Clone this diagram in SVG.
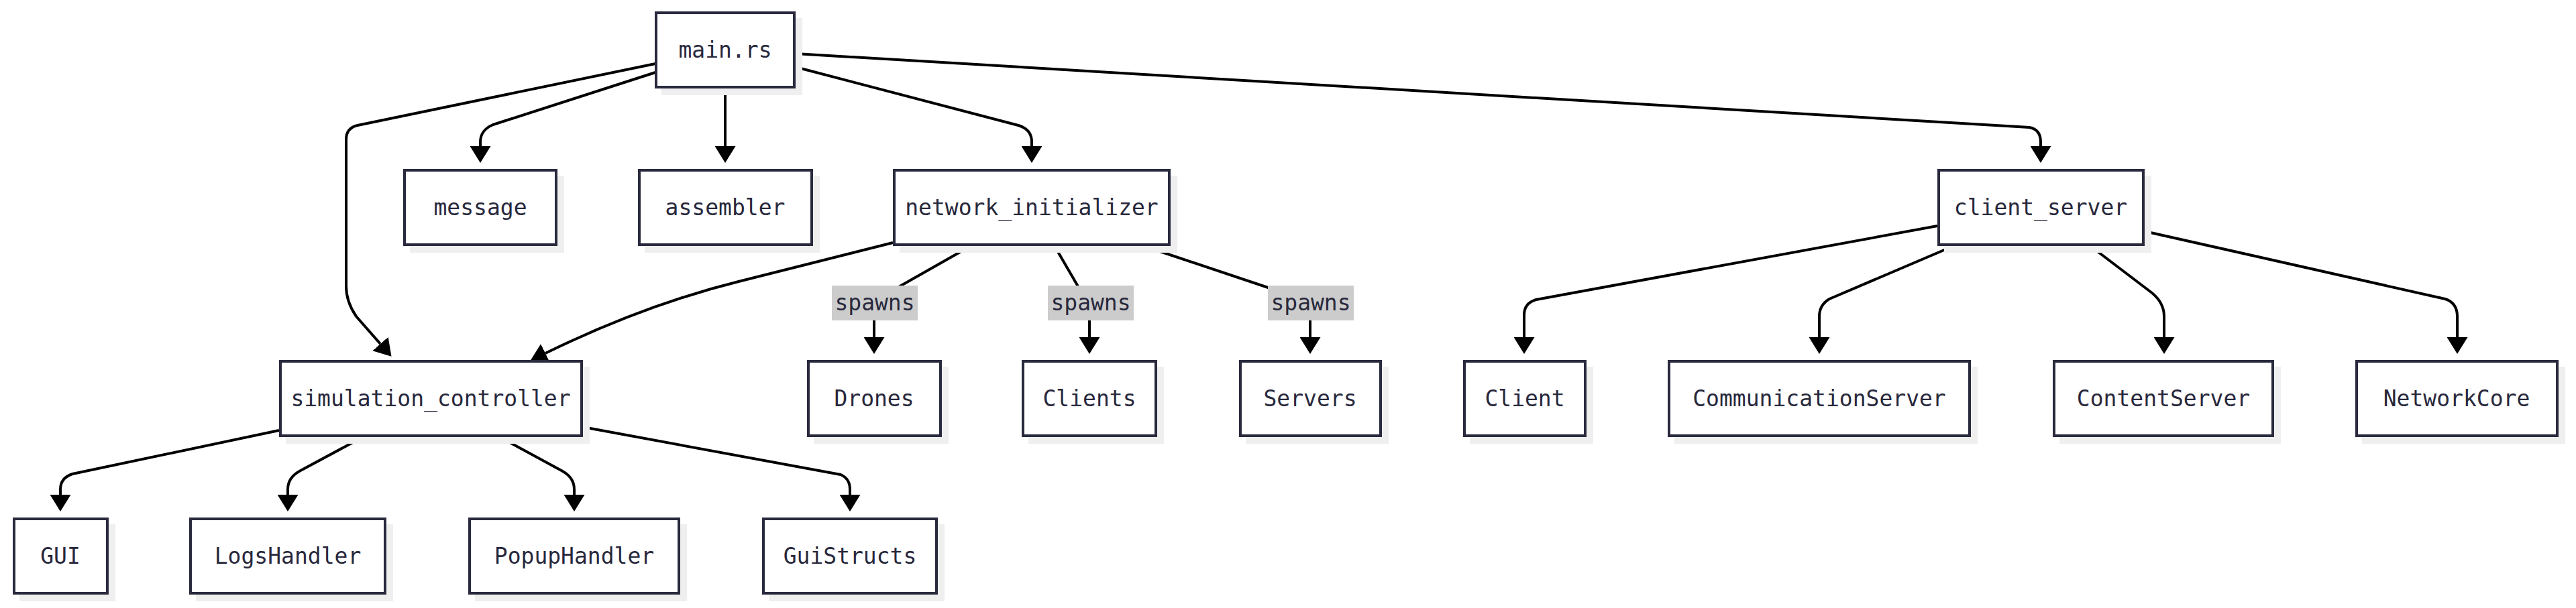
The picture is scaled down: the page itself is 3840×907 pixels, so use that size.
<svg xmlns="http://www.w3.org/2000/svg" width="3840" height="907" viewBox="0 0 3840 907">
<style>
.bg{fill:#ffffff}
.sh{fill:#efefef;stroke:none}
.bx{fill:#ffffff;stroke:#2a2a3e;stroke-width:4}
.t{font-family:"DejaVu Sans Mono","Liberation Mono",monospace;font-size:33px;fill:#28283c;text-anchor:middle}
.e{fill:none;stroke:#000000;stroke-width:4;stroke-linejoin:round}
.lb{fill:#cccccc;stroke:none}
</style>
<defs>
<marker id="arr" markerUnits="userSpaceOnUse" markerWidth="25" markerHeight="31" viewBox="0 0 25 31" refX="0" refY="15.5" orient="auto">
<path d="M0,0 L25,15.5 L0,31 z" fill="#000000"/>
</marker>
</defs>
<rect class="bg" x="0" y="0" width="3840" height="907"/>
<g id="connectors">
<path class="e" marker-end="url(#arr)" d="M977,95 L533,187 Q516,191 516,208 L516,427 Q516,450 531,472 L567,513"/>
<path class="e" marker-end="url(#arr)" d="M977,108 L735,186 Q716,194 716,212 L716,218"/>
<path class="e" marker-end="url(#arr)" d="M1081,132 L1081,218"/>
<path class="e" marker-end="url(#arr)" d="M1186,100 L1518,187 Q1538,193 1538,212 L1538,218"/>
<path class="e" marker-end="url(#arr)" d="M1186,80 L3025,190 Q3042,193 3042,212 L3042,218"/>
<path class="e" marker-end="url(#arr)" d="M1331,362 L1101,420 Q960,455 813,527"/>
<path class="e" marker-end="url(#arr)" d="M1447,367 L1315,442 Q1303,450 1303,465 L1303,503"/>
<path class="e" marker-end="url(#arr)" d="M1572,367 L1615,441 Q1624,452 1624,465 L1624,503"/>
<path class="e" marker-end="url(#arr)" d="M1702,366 L1935,444 Q1953,452 1953,465 L1953,503"/>
<path class="e" marker-end="url(#arr)" d="M2888,337 L2290,447 Q2272,452 2272,470 L2272,503"/>
<path class="e" marker-end="url(#arr)" d="M2912,367 L2727,446 Q2712,455 2712,472 L2712,503"/>
<path class="e" marker-end="url(#arr)" d="M3116,367 L3208,437 Q3226,452 3226,472 L3226,503"/>
<path class="e" marker-end="url(#arr)" d="M3197,345 L3645,446 Q3663,452 3663,472 L3663,503"/>
<path class="e" marker-end="url(#arr)" d="M416,642 L108,707 Q90,713 90,730 L90,738"/>
<path class="e" marker-end="url(#arr)" d="M539,653 L448,702 Q429,712 429,730 L429,738"/>
<path class="e" marker-end="url(#arr)" d="M747,653 L837,702 Q856,712 856,730 L856,738"/>
<path class="e" marker-end="url(#arr)" d="M869,637 L1253,708 Q1267,714 1267,730 L1267,738"/>
<g id="edge-labels">
<rect class="lb" x="1240" y="426" width="128" height="52"/>
<text class="t" x="1304" y="463">spawns</text>
<rect class="lb" x="1562" y="426" width="128" height="52"/>
<text class="t" x="1626" y="463">spawns</text>
<rect class="lb" x="1890" y="426" width="128" height="52"/>
<text class="t" x="1954" y="463">spawns</text>
</g>
</g>
<g id="main_rs"><rect class="sh" x="986" y="27" width="210" height="115"/><rect class="bx" x="978" y="19" width="206" height="111"/><text class="t" x="1081" y="86">main.rs</text></g>
<g id="message"><rect class="sh" x="611" y="262" width="230" height="115"/><rect class="bx" x="603" y="254" width="226" height="111"/><text class="t" x="716" y="321">message</text></g>
<g id="assembler"><rect class="sh" x="961" y="262" width="261" height="115"/><rect class="bx" x="953" y="254" width="257" height="111"/><text class="t" x="1081" y="321">assembler</text></g>
<g id="network_initializer"><rect class="sh" x="1341" y="262" width="414" height="115"/><rect class="bx" x="1333" y="254" width="410" height="111"/><text class="t" x="1538" y="321">network_initializer</text></g>
<g id="client_server"><rect class="sh" x="2898" y="262" width="309" height="115"/><rect class="bx" x="2890" y="254" width="305" height="111"/><text class="t" x="3042" y="321">client_server</text></g>
<g id="simulation_controller"><rect class="sh" x="426" y="547" width="453" height="115"/><rect class="bx" x="418" y="539" width="449" height="111"/><text class="t" x="642" y="606">simulation_controller</text></g>
<g id="Drones"><rect class="sh" x="1213" y="547" width="201" height="115"/><rect class="bx" x="1205" y="539" width="197" height="111"/><text class="t" x="1303" y="606">Drones</text></g>
<g id="Clients"><rect class="sh" x="1533" y="547" width="202" height="115"/><rect class="bx" x="1525" y="539" width="198" height="111"/><text class="t" x="1624" y="606">Clients</text></g>
<g id="Servers"><rect class="sh" x="1857" y="547" width="213" height="115"/><rect class="bx" x="1849" y="539" width="209" height="111"/><text class="t" x="1953" y="606">Servers</text></g>
<g id="Client"><rect class="sh" x="2191" y="547" width="184" height="115"/><rect class="bx" x="2183" y="539" width="180" height="111"/><text class="t" x="2273" y="606">Client</text></g>
<g id="CommunicationServer"><rect class="sh" x="2496" y="547" width="452" height="115"/><rect class="bx" x="2488" y="539" width="448" height="111"/><text class="t" x="2712" y="606">CommunicationServer</text></g>
<g id="ContentServer"><rect class="sh" x="3070" y="547" width="330" height="115"/><rect class="bx" x="3062" y="539" width="326" height="111"/><text class="t" x="3225" y="606">ContentServer</text></g>
<g id="NetworkCore"><rect class="sh" x="3521" y="547" width="303" height="115"/><rect class="bx" x="3513" y="539" width="299" height="111"/><text class="t" x="3662" y="606">NetworkCore</text></g>
<g id="GUI"><rect class="sh" x="29" y="782" width="143" height="115"/><rect class="bx" x="21" y="774" width="139" height="111"/><text class="t" x="90" y="841">GUI</text></g>
<g id="LogsHandler"><rect class="sh" x="292" y="782" width="294" height="115"/><rect class="bx" x="284" y="774" width="290" height="111"/><text class="t" x="429" y="841">LogsHandler</text></g>
<g id="PopupHandler"><rect class="sh" x="708" y="782" width="316" height="115"/><rect class="bx" x="700" y="774" width="312" height="111"/><text class="t" x="856" y="841">PopupHandler</text></g>
<g id="GuiStructs"><rect class="sh" x="1146" y="782" width="262" height="115"/><rect class="bx" x="1138" y="774" width="258" height="111"/><text class="t" x="1267" y="841">GuiStructs</text></g>
</svg>
